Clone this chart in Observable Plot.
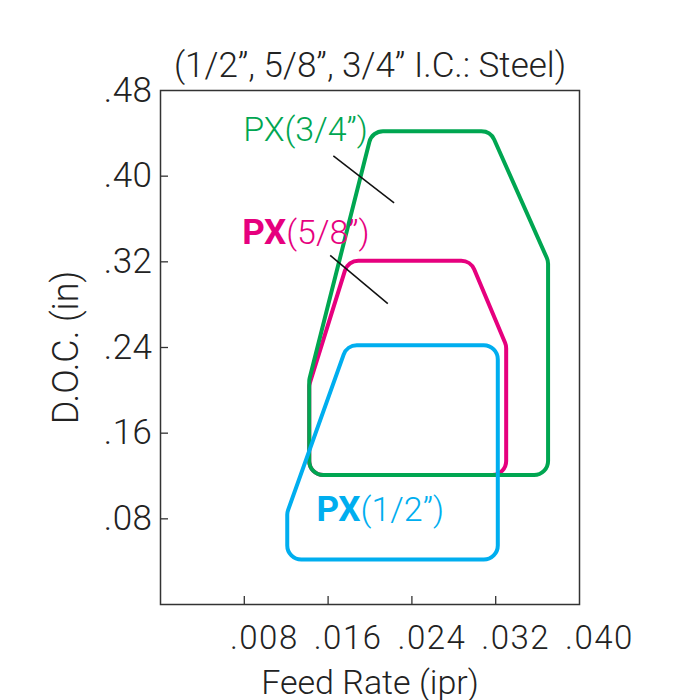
<!DOCTYPE html>
<html>
<head>
<meta charset="utf-8">
<script src="https://cdn.jsdelivr.net/npm/d3@7"></script>
<script src="https://cdn.jsdelivr.net/npm/@observablehq/plot@0.6"></script>
<style>
  html, body { margin: 0; padding: 0; background: #fff; }
  #chart svg { display: block; }
  #chart g[aria-label="x-axis tick label"] text { letter-spacing: 1.5px; }
  #chart g[aria-label="y-axis tick label"] text { letter-spacing: 0.5px; }
</style>
</head>
<body>
<div id="chart"></div>
<script>
// ---- data ----
const title = "(1/2”, 5/8”, 3/4” I.C.: Steel)";
const xLabel = "Feed Rate (ipr)";
const yLabel = "D.O.C. (in)";
const xTickLabels = [0.008, 0.016, 0.024, 0.032, 0.040];
const xTickMarks = [0.008, 0.016, 0.024, 0.032];
const yTickLabels = [0.08, 0.16, 0.24, 0.32, 0.40, 0.48];
const yTickMarks = [0.08, 0.16, 0.24, 0.32, 0.40];

const series = ["PX(1/2”)", "PX(5/8”)", "PX(3/4”)"];
const colors = ["#00aeef", "#e6007e", "#00a651"];

// polygon vertices (feed rate, depth of cut)
const feedHalf = [0.0121, 0.0121, 0.0178, 0.0322, 0.0322];
const docHalf  = [0.042, 0.086, 0.242, 0.242, 0.042];
const feedFiveEighths = [0.0142, 0.0142, 0.0179, 0.0296, 0.0330, 0.0330];
const docFiveEighths  = [0.121, 0.205, 0.321, 0.321, 0.242, 0.121];
const feedThreeQuarter = [0.0142, 0.0142, 0.0202, 0.0315, 0.0370, 0.0370];
const docThreeQuarter  = [0.121, 0.210, 0.442, 0.442, 0.321, 0.121];

// series labels: bold prefix + rest, anchored at the junction
const labelBold = ["PX", "PX", ""];
const labelRest = ["(1/2”)", "(5/8”)", "PX(3/4”)"];
const labelFeed = [0.0191, 0.0120, 0.0079];
const labelDoc  = [0.088, 0.347, 0.443];

// leader lines
const leadFeed1 = [0.0165, 0.0162];
const leadDoc1  = [0.419, 0.326];
const leadFeed2 = [0.0223, 0.0217];
const leadDoc2  = [0.375, 0.281];

// ---- build tables ----
const polys = [];
[[feedFiveEighths, docFiveEighths, 1], [feedThreeQuarter, docThreeQuarter, 2], [feedHalf, docHalf, 0]]
  .forEach(([fx, fy, s]) => fx.forEach((x, i) => polys.push({x, y: fy[i], s: series[s]})));
const labels = series.map((s, i) => ({s, bold: labelBold[i], rest: labelRest[i], x: labelFeed[i], y: labelDoc[i], c: colors[i]}));
const leaders = leadFeed1.map((x1, i) => ({x1, y1: leadDoc1[i], x2: leadFeed2[i], y2: leadDoc2[i]}));

// closed polygon curve with rounded corners
function roundedClosed(r) {
  return (context) => {
    let pts = [];
    const dist = (a, b) => Math.hypot(a[0] - b[0], a[1] - b[1]);
    return {
      areaStart() {}, areaEnd() {},
      lineStart() { pts = []; },
      point(x, y) { pts.push([+x, +y]); },
      lineEnd() {
        const n = pts.length;
        if (n < 3) return;
        const a = pts[n - 1], b = pts[0];
        context.moveTo((a[0] + b[0]) / 2, (a[1] + b[1]) / 2);
        for (let i = 0; i < n; i++) {
          const p = pts[i], next = pts[(i + 1) % n], prev = pts[(i - 1 + n) % n];
          const rr = Math.min(r, dist(p, prev) / 3, dist(p, next) / 3);
          context.arcTo(p[0], p[1], next[0], next[1], rr);
        }
        context.closePath();
      }
    };
  };
}

const fx = d => d3.format(".3f")(d).replace(/^0/, "");
const fy = d => d3.format(".2f")(d).replace(/^0/, "");
const font = "Roboto, 'Liberation Sans', sans-serif";

const chart = Plot.plot({
  width: 700,
  height: 700,
  marginLeft: 160,
  marginRight: 121,
  marginTop: 90,
  marginBottom: 96,
  x: {domain: [0, 0.04]},
  y: {domain: [0, 0.48]},
  style: {fontFamily: font, fontWeight: 300, color: "#222", background: "#fff"},
  marks: [
    Plot.frame({stroke: "#333", strokeWidth: 1.5}),
    Plot.axisX(xTickLabels, {tickSize: 0, tickPadding: 21, tickFormat: fx, dx: 20, fontSize: 33, label: null}),
    Plot.axisX(xTickMarks, {tickSize: 8, text: null, dy: -8, stroke: "#333", strokeWidth: 1.3, label: null}),
    Plot.axisX([], {label: xLabel, labelAnchor: "center", labelArrow: "none", labelOffset: 89, fontSize: 34}),
    Plot.axisY(yTickLabels, {tickSize: 0, tickPadding: 8, tickFormat: fy, fontSize: 35, label: null}),
    Plot.axisY(yTickMarks, {tickSize: 8, text: null, dx: 8, stroke: "#333", strokeWidth: 1.3, label: null}),
    Plot.axisY([], {label: yLabel, labelAnchor: "center", labelArrow: "none", labelOffset: 108, fontSize: 36}),
    Plot.text([title], {frameAnchor: "top", dy: -25, fontSize: 35, lineAnchor: "middle", fill: "#222"}),
    Plot.line(polys, {x: "x", y: "y", z: "s", stroke: "s", strokeWidth: 4, curve: roundedClosed(14)}),
    Plot.link(leaders, {x1: "x1", y1: "y1", x2: "x2", y2: "y2", stroke: "#111", strokeWidth: 1.5}),
    Plot.text(labels, {x: "x", y: "y", text: "bold", fill: "c", textAnchor: "end", fontWeight: 700, fontSize: 35, lineAnchor: "middle"}),
    Plot.text(labels, {x: "x", y: "y", text: "rest", fill: "c", textAnchor: "start", fontWeight: 300, fontSize: 34, lineAnchor: "middle"})
  ],
  color: {domain: series, range: colors}
});
document.getElementById("chart").appendChild(chart);
</script>
</body>
</html>
